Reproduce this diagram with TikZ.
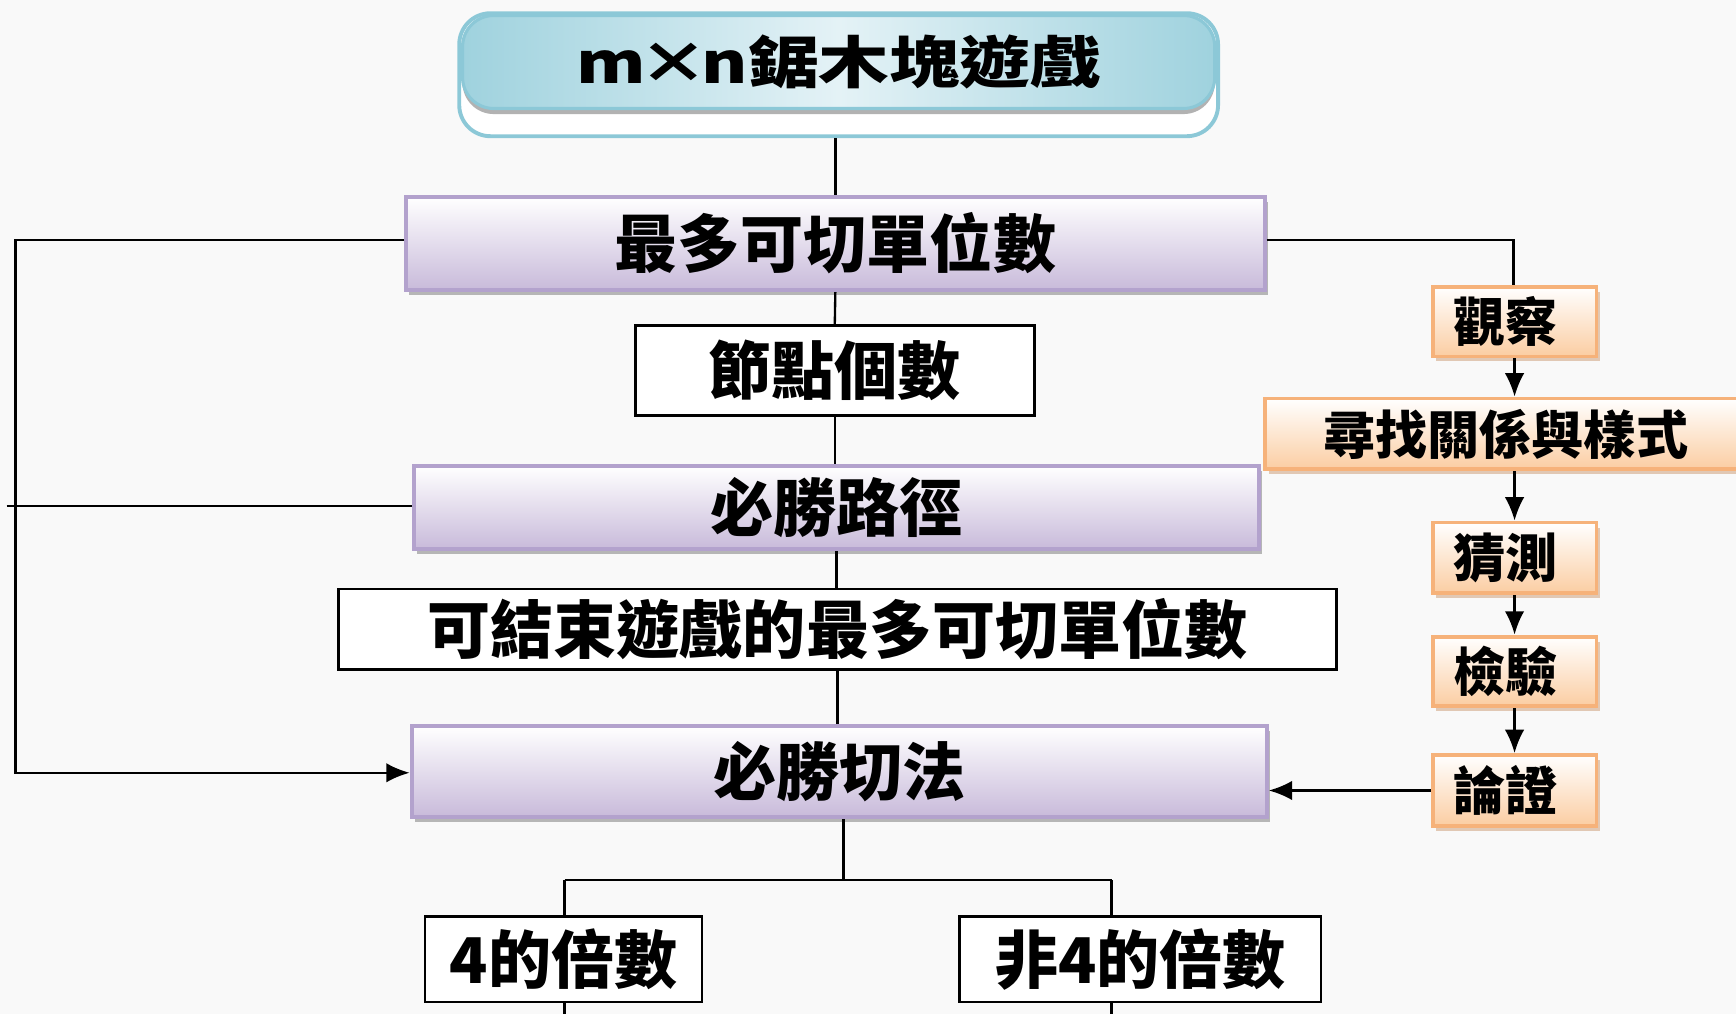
\documentclass[tikz,border=0pt]{standalone}
\usepackage{fontspec}
\newfontfamily\cjk{Noto Sans CJK TC}
\usetikzlibrary{shadows,arrows.meta}
\definecolor{bg}{HTML}{F9F9F9}
\definecolor{purpbot}{HTML}{C8BADA}
\definecolor{purpline}{HTML}{B3A2CD}
\definecolor{orgbot}{HTML}{FBCDA2}
\definecolor{orgline}{HTML}{F6B27A}
\definecolor{tealdark}{HTML}{9FD2DE}
\definecolor{teallight}{HTML}{E4F2F6}
\definecolor{tealline}{HTML}{8CC8D7}
\begin{document}
\begin{tikzpicture}[x=0.01cm,y=-0.01cm,
  conn/.style={line width=0.6pt, black},
  arr/.style={conn,-{Latex[length=6pt,width=5pt]}},
  mainfont/.style={font=\cjk\bfseries\fontsize{16.2}{18}\selectfont},
  sidefont/.style={font=\cjk\bfseries\fontsize{13.4}{15}\selectfont},
  purp/.style={mainfont, draw=purpline, line width=1pt, top color=white, bottom color=purpbot, inner sep=0pt,
    drop shadow={shadow xshift=0.03cm, shadow yshift=-0.045cm, fill=black!50, opacity=0.55}},
  plain/.style={mainfont, draw=black, line width=0.7pt, fill=white, inner sep=0pt},
  orng/.style={sidefont, draw=orgline, line width=1pt, top color=white, bottom color=orgbot, inner sep=0pt,
    drop shadow={shadow xshift=0.03cm, shadow yshift=-0.045cm, fill=orgline!80!black, opacity=0.45}},
]
\fill[bg] (0,0) rectangle (1568,916);
\useasboundingbox (0,0) rectangle (1568,916);

% title
\node[draw=tealline, line width=1pt, fill=white, rounded corners=8pt, minimum width=6.85cm, minimum height=1.11cm, inner sep=0pt] (tframe) at (757.5,67.5) {};
\node[draw=tealline, line width=0.8pt, rounded corners=8pt, left color=tealdark, right color=tealdark, middle color=teallight,
  minimum width=6.79cm, minimum height=0.84cm, inner sep=0pt,
  drop shadow={shadow xshift=0.0cm, shadow yshift=-0.05cm, fill=black!60, opacity=0.5},
  font=\cjk\bfseries\fontsize{14.5}{16}\selectfont] (title) at (757.5,56) {\scalebox{1.25}[1]{m\kern-1.5pt×\kern-1.5pt n鋸木塊遊戲}};

% main column
\node[purp, minimum width=7.75cm, minimum height=0.84cm] (max) at (754.5,220) {最多可切單位數};
\node[plain, minimum width=3.6cm, minimum height=0.81cm] (cnt) at (754,334.5) {節點個數};
\node[purp, minimum width=7.63cm, minimum height=0.75cm] (path) at (755.5,458.5) {必勝路徑};
\node[plain, minimum width=9.01cm, minimum height=0.73cm] (endg) at (756.5,568.5) {可結束遊戲的最多可切單位數};
\node[purp, minimum width=7.72cm, minimum height=0.82cm] (cut) at (758,697) {必勝切法};
\node[plain, minimum width=2.5cm, minimum height=0.77cm] (m4) at (509,866.5) {4的倍數};
\node[plain, minimum width=3.26cm, minimum height=0.77cm] (n4) at (1030,866.5) {非4的倍數};

% right column
\node[orng, minimum width=1.48cm, minimum height=0.63cm] (obs) at (1368,290.5) {觀察\kern0.16cm};
\node[orng, minimum width=4.34cm, minimum height=0.64cm] (find) at (1360,392) {尋找關係與樣式};
\node[orng, minimum width=1.48cm, minimum height=0.64cm] (guess) at (1368,504) {猜測\kern0.16cm};
\node[orng, minimum width=1.48cm, minimum height=0.63cm] (test) at (1368,606.5) {檢驗\kern0.16cm};
\node[orng, minimum width=1.48cm, minimum height=0.64cm] (prove) at (1368,714) {論證\kern0.16cm};

% coordinates
\coordinate (lx1) at (14,217);
\coordinate (lx2) at (14,698);
\coordinate (lstub) at (6,457);
\coordinate (rx1) at (1367,217);
\coordinate (split) at (762,795);
\coordinate (sl) at (510,795);
\coordinate (sr) at (1004,795);
\coordinate (bl) at (510,916);
\coordinate (br) at (1004,916);

% connectors main
\draw[conn] (tframe.south -| max.north) -- (max.north);
\draw[conn] (max.south) -- (cnt.north);
\draw[conn] (cnt.south) -- (cnt.south |- path.north);
\draw[conn] (path.south) -- (path.south |- endg.north);
\draw[conn] (endg.south) -- (endg.south |- cut.north);
\draw[conn] (cut.south -| split) -- (split);
\draw[conn] (sl) -- (sr);
\draw[conn] (sl) -- (sl |- m4.north);
\draw[conn] (sr) -- (sr |- n4.north);
\draw[conn] (m4.south -| bl) -- (bl);
\draw[conn] (n4.south -| br) -- (br);

% left loop
\draw[arr] (max.west |- lx1) -- (lx1) -- (lx2) -- (cut.west |- lx2);
\draw[conn] (lstub) -- (path.west |- lstub);

% right column
\draw[conn] (max.east |- rx1) -- (rx1) -- (rx1 |- obs.north);
\draw[arr] (obs.south) -- (obs.south |- find.north);
\draw[arr] (obs.south |- find.south) -- (guess.north);
\draw[arr] (guess.south) -- (test.north);
\draw[arr] (test.south) -- (prove.north);
\draw[arr] (prove.west) -- (cut.east |- prove.west);
\end{tikzpicture}
\end{document}
